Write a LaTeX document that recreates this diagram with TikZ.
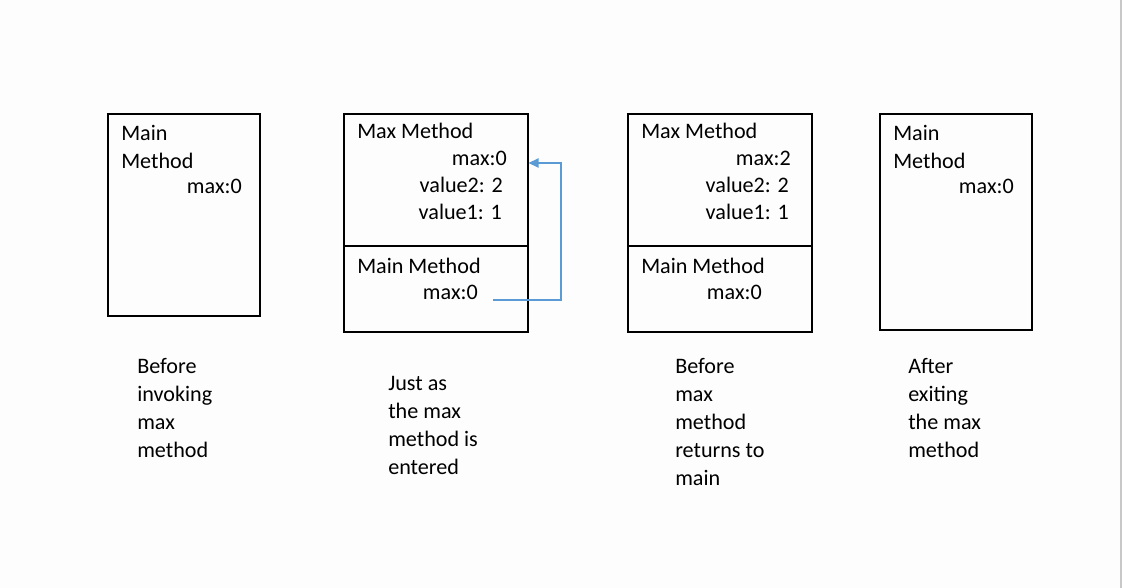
\documentclass[tikz,border=0pt]{standalone}
\usepackage{fontspec}
\setmainfont{Carlito}
\usetikzlibrary{positioning,arrows.meta}
\definecolor{linkblue}{RGB}{91,155,213}
\definecolor{pagebg}{RGB}{253,253,253}
\definecolor{edgegray}{RGB}{200,200,200}
\tikzset{
  frame/.style={draw,line width=1.2pt,rectangle,inner sep=0pt,anchor=north west},
  txt/.style={inner sep=0pt,font=\fontsize{16.6}{20}\selectfont},
  caption/.style={inner sep=0pt,align=left,anchor=north west,font=\fontsize{16.6}{21}\selectfont},
  flow/.style={draw=linkblue,line width=1.1pt,-{Triangle[length=7.5pt,width=7pt]}}
}
\begin{document}
\begin{tikzpicture}[x=0.75pt,y=-0.75pt]
  \fill[pagebg] (0,0) rectangle (1122,588);
  \fill[edgegray] (1120,0) rectangle (1122,588);

  % stack frames
  \node[frame,minimum width=114pt,minimum height=151.5pt] (stackA) at (107,113) {};
  \node[frame,minimum width=138pt,minimum height=163.5pt] (stackB) at (343,113) {};
  \node[frame,minimum width=138pt,minimum height=163.5pt] (stackC) at (627,113) {};
  \node[frame,minimum width=114pt,minimum height=162pt] (stackD) at (879,113) {};
  \draw[line width=1.2pt] (stackB.west |- 0,246) -- (stackB.east |- 0,246);
  \draw[line width=1.2pt] (stackC.west |- 0,246) -- (stackC.east |- 0,246);

  % first frame
  \node[txt,anchor=base west] (mainA1) at (121,141) {Main};
  \node[txt,anchor=base west] (mainA2) at (121,169) {Method};
  \node[txt,anchor=base east] (maxA) at (242,194) {max:0};

  % second frame
  \node[txt,anchor=base west] (topB) at (357,139) {Max Method};
  \node[txt,anchor=base east] (maxB) at (507,166) {max:0};
  \node[txt,anchor=base east] (valtwoB) at (503,193) {value2: 2};
  \node[txt,anchor=base east] (valoneB) at (502,220) {value1: 1};
  \node[txt,anchor=base west] (lowB) at (357,273) {Main Method};
  \node[txt,anchor=base east] (lowmaxB) at (478,300) {max:0};

  % third frame
  \node[txt,anchor=base west] (topC) at (641,139) {Max Method};
  \node[txt,anchor=base east] (maxC) at (791,166) {max:2};
  \node[txt,anchor=base east] (valtwoC) at (789,193) {value2: 2};
  \node[txt,anchor=base east] (valoneC) at (789,220) {value1: 1};
  \node[txt,anchor=base west] (lowC) at (641,273) {Main Method};
  \node[txt,anchor=base east] (lowmaxC) at (762,300) {max:0};

  % fourth frame
  \node[txt,anchor=base west] (mainD1) at (893,141) {Main};
  \node[txt,anchor=base west] (mainD2) at (893,169) {Method};
  \node[txt,anchor=base east] (maxD) at (1014,194) {max:0};

  % call arrow
  \coordinate (callB) at (493,300);
  \coordinate (bendB) at (561,163);
  \draw[flow] (callB) -| (bendB) -- (stackB.east |- bendB);

  % captions
  \node[caption] (capA) at (137,358) {Before\\invoking\\max\\method};
  \node[caption] (capB) at (388,376) {Just as\\the max\\method is\\entered};
  \node[caption] (capC) at (675,358) {Before\\max\\method\\returns to\\main};
  \node[caption] (capD) at (908,358) {After\\exiting\\the max\\method};
\end{tikzpicture}
\end{document}
